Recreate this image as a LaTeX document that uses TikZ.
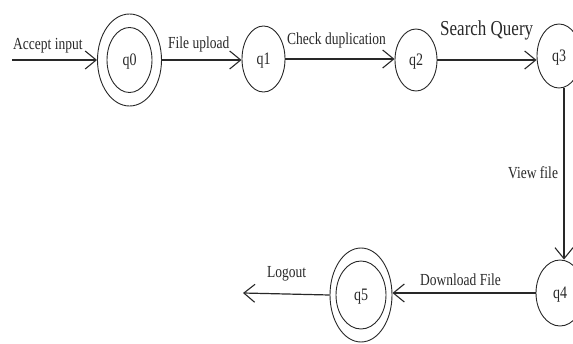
\documentclass[tikz,border=0pt]{standalone}
\usepackage{fontspec}
\setmainfont{Liberation Serif}
\usepackage{graphicx}
\usetikzlibrary{shapes.geometric,arrows.meta}
\definecolor{ink}{RGB}{40,40,40}
\newcommand{\tallx}[1]{\scalebox{1}[1.25]{#1}}
\begin{document}
\begin{tikzpicture}[x=1pt,y=-1pt,
  st/.style={ellipse,draw=ink,line width=0.9pt,inner sep=0pt,minimum width=43pt,minimum height=64pt,font=\fontsize{14}{16}\selectfont,text=ink,text depth=-3pt},
  acc/.style={st,minimum width=64pt,minimum height=92pt},
  inring/.style={draw=ink,line width=0.9pt},
  edge/.style={draw=ink,line width=1.2pt,-{Straight Barb[length=11pt,width=18pt,line width=1.1pt]}},
  lbl/.style={font=\fontsize{13.5}{15}\selectfont,inner sep=0pt,anchor=base west,text=ink}]
\useasboundingbox (0,0) rectangle (573,343);
% states
\node[acc] (q0) at (129.5,60) {\tallx{q0}};
\draw[inring] (q0.center) ellipse [x radius=22.5, y radius=32.5];
\node[st,minimum width=43pt,minimum height=66pt] (q1) at (263.5,59) {\tallx{q1}};
\node[st,minimum width=42pt,minimum height=62pt] (q2) at (416,60) {\tallx{q2}};
\node[st,minimum width=44pt,minimum height=64pt] (q3) at (559,56) {\tallx{q3}};
\node[st,minimum width=48pt,minimum height=66pt] (q4) at (560,293) {\tallx{q4}};
\node[acc,minimum width=62pt,minimum height=94pt] (q5) at (361,295) {\tallx{q5}};
\draw[inring] (q5.center) ellipse [x radius=25, y radius=34];
% free ends
\coordinate (start) at (12,60);
\coordinate (finish) at (243,293);
% transitions
\draw[edge] (start) -- (q0.west);
\draw[edge] (q0.east) -- (q0.east -| q1.west);
\draw[edge] (q1.east) -- (q1.east -| q2.west);
\draw[edge] (q2.east) -- (q2.east -| q3.west);
\draw[edge] ([xshift=5pt]q3.south) -- ([xshift=5pt]q3.south |- q4.north);
\draw[edge] (q4.west) -- (q4.west -| q5.east);
\draw[edge] (q5.west) -- (finish);
% labels
\node[lbl] (la) at (13,49) {\tallx{Accept input}};
\node[lbl] (lb) at (168,48) {\tallx{File upload}};
\node[lbl] (lc) at (287,44) {\tallx{Check duplication}};
\node[lbl,font=\fontsize{17}{19}\selectfont] (ld) at (440,35) {\tallx{Search Query}};
\node[lbl] (le) at (508,178) {\tallx{View file}};
\node[lbl] (lf) at (420,285) {\tallx{Download File}};
\node[lbl] (lg) at (267,277) {\tallx{Logout}};
\end{tikzpicture}
\end{document}
